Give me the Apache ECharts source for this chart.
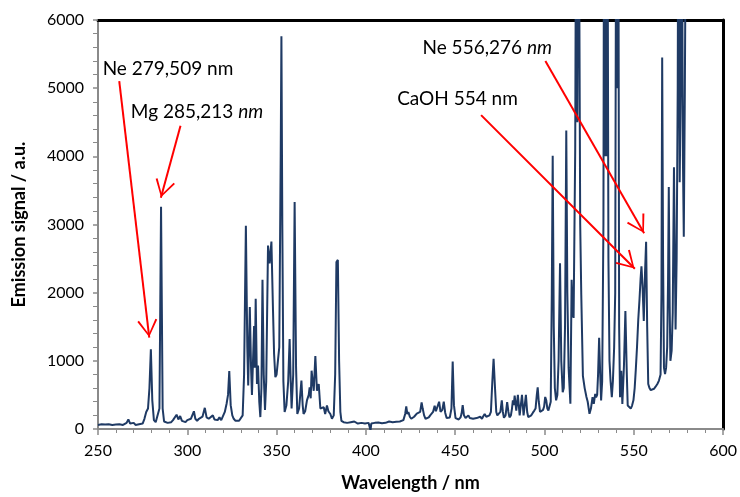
<!DOCTYPE html>
<html>
<head>
<meta charset="utf-8">
<script src="https://cdn.jsdelivr.net/npm/echarts@6/dist/echarts.min.js"></script>
<style>html,body{margin:0;padding:0;background:#fff}#c{width:740px;height:497px}</style>
</head>
<body>
<div id="c"></div>
<script>
// Wavelength (nm) and emission signal (a.u.)
const wavelength = [
250,251,252,253,254,255,256,257,258,259,260,261,262,263,264,265,266,267,268,269,270,271,272,273,274,275,
276,277,278,278.8,279.6,280.4,281.3,282.3,283.3,284.4,285.3,286.2,287,288,289,290,291,292,293,294,295,296,297,298,299,
300,301,302,303,303.7,304.5,305.5,306.5,307.5,308.5,309.8,310.8,312,313,314.3,315.2,316,317,318,319,320,321,322,322.8,323.5,324.3,325.2,326,327,328,329,330,
331,331.8,332.8,333.6,334.1,335,335.7,336.2,337.4,337.8,338.3,339,339.6,340.3,340.9,341.5,342.1,342.8,343.5,344.2,345.2,346.1,347.1,348,348.6,349.3,350,350.8,351.5,352.3,352.7,353.2,353.8,354.5,355.5,356.5,357.3,357.9,358.4,359.3,360.1,360.9,361.6,362.6,363.9,364.6,365.1,366,367,368,368.5,369.1,369.6,370.2,370.8,371.7,372.6,373.6,374.5,375.4,376.4,377.2,378.2,379,380.1,381,382,382.8,383.5,384.3,385,385.7,386.3,
387.5,388.5,389.5,390.5,391.5,392.5,393.5,394.5,395.5,396.5,397.5,398.5,399.5,400.5,401.5,402.2,402.6,403,404,405,406,407,408,409,410,411,412,413,414,415,416,417,418,419,420,
421,422,422.6,423.2,423.8,424.6,425.4,426.3,427,427.8,428.5,429.5,430.4,431.2,431.8,432.6,433.4,434.3,435.2,436,436.8,437.6,438.5,439.2,440.1,441,441.8,442.8,443.6,444.4,445.2,446,447,447.9,448.6,449.3,450.2,
451,452,453,453.6,454.2,454.9,455.8,456.6,457.4,458.2,459,460,461,462,463,464,465,465.8,466.5,467.4,468.3,469.2,470,470.8,471.5,472.3,473,473.6,474.5,475.3,476.1,476.7,477.3,478.2,479.1,479.8,480.4,481.2,481.8,482.3,482.8,483.3,484.2,485.1,486.1,487.4,488.3,489.6,490.3,490.9,491.8,492.6,493.5,494.3,495,495.7,496.2,496.8,497.5,498.4,499.2,499.8,500.4,501,501.6,502.2,502.8,503.5,
504.1,504.6,505.2,505.8,506.5,507.2,507.9,508.7,509.4,510.2,510.8,511.5,512.2,512.8,513.5,514.5,515.2,515.8,516.3,517.2,517.8,518.4,519.1,520,520.6,521.5,522.5,523.5,524.2,525.2,526,526.9,527.6,528.4,528.9,529.5,530,530.6,531.2,531.7,532.3,533,533.4,533.9,534.3,534.8,535.2,535.8,536.4,537,537.7,538.3,539,539.6,540.2,540.7,541.3,541.8,542.3,543,543.6,544.5,545.3,546.1,546.6,547.5,548.3,549,549.8,550.5,551.1,551.8,552.5,553.2,553.8,554.3,554.9,555.6,556.3,556.9,557.5,558.1,558.8,559.5,560.4,561.3,562.2,563.2,564.1,565,565.5,565.9,566.4,566.9,567.5,568.1,568.7,569.2,569.6,570.1,570.5,571.2,571.8,572.5,573,573.4,574,574.6,575,575.7,576.3,576.8,577.5,578,578.6,579.4,580.4
];
const signal = [
60,40,70,50,65,45,70,55,60,40,65,50,70,55,60,75,90,140,80,70,90,60,80,70,90,80,
150,250,300,600,1170,420,130,100,110,300,3260,300,110,100,90,110,100,130,120,210,140,190,120,110,100,
130,110,150,170,260,150,120,150,130,180,310,170,150,140,200,140,120,130,170,130,140,250,370,500,850,350,200,150,120,140,120,130,
200,800,2980,1200,640,1790,900,500,1510,900,1910,660,930,400,175,600,2190,800,280,700,2690,2430,2750,1730,1100,760,800,780,1200,4000,5760,3000,700,250,350,700,1320,700,300,800,3330,900,220,300,710,350,220,260,420,500,610,450,855,700,560,1070,560,660,300,280,320,220,345,260,220,150,200,800,2450,2480,1000,250,120,
100,110,90,110,100,90,110,100,80,100,90,100,80,95,90,70,-20,80,100,90,110,95,100,85,110,90,100,110,90,100,85,105,95,110,100,
130,220,330,220,250,180,150,160,180,200,225,200,250,390,300,200,150,160,170,200,220,250,340,260,280,400,250,280,400,240,160,150,170,300,990,350,160,
150,140,170,230,350,200,160,150,200,160,140,150,130,160,140,180,150,190,220,180,170,200,250,700,1030,600,250,200,190,250,420,250,165,200,395,250,170,200,300,420,350,490,270,500,200,500,200,500,250,175,190,200,240,270,300,500,610,400,250,230,280,330,470,420,300,270,280,400,
2000,4010,1500,600,420,500,1000,2430,1000,540,600,1500,4380,2000,900,370,2190,1700,1630,4090,9000,4500,9000,3000,1970,780,600,470,400,223,300,466,370,514,466,500,800,1340,800,418,700,3000,9000,4000,9000,4000,9000,2500,1000,700,466,700,1195,2000,9000,5000,9000,1500,466,855,369,928,1730,800,345,320,300,340,420,600,860,1200,1600,1900,2200,2385,2100,1584,2300,2745,1500,660,600,570,564,590,620,660,710,800,2000,5450,2500,900,805,900,1200,2200,3550,1800,1000,1150,1700,3840,2500,1460,2500,5000,9000,3620,5000,9000,4000,2820,5000,9000
];
const xTicks = {min: 250, max: 600, interval: 50};
const yTicks = {min: 0, max: 6000, interval: 1000};

// Annotations (data coordinates); second part of each label is the unit
const annotationTexts = ['Ne 279,509 ', 'Mg 285,213 ', 'CaOH 554 ', 'Ne 556,276 '];
const annotationUnitItalic = [false, true, false, true];
const annotationAnchors = [[252.6, 5276], [268.4, 4649], [417.5, 4839], [431.7, 5596]];
const arrowStarts = [[261.9, 5105], [296.2, 4450], [464.5, 4605], [500.5, 5397]];
const arrowTips = [[278.7, 1341], [285.2, 3391], [550.6, 2351], [555.8, 2871]];

const seriesData = wavelength.map((w, i) => [w, signal[i]]);

const chart = echarts.init(document.getElementById('c'), null, {renderer: 'canvas'});
const FONT = 'Lato';
const arrowHead = 'path://M10,18 L20,34 L18.3,35 L10,21 L1.7,35 L0,34 Z M10,0 L10.02,0 L10,0.02 Z';

chart.setOption({
  animation: false,
  backgroundColor: '#fff',
  grid: {left: 98, right: 16, top: 20, bottom: 65, containLabel: false},
  xAxis: [{
    type: 'value', min: xTicks.min, max: xTicks.max, interval: xTicks.interval,
    name: 'Wavelength / nm', nameLocation: 'middle', nameGap: 45,
    nameTextStyle: {fontFamily: FONT, fontWeight: 'bold', fontSize: 18, color: '#000'},
    axisLine: {show: true, onZero: false, lineStyle: {color: '#8a8a8a', width: 2}},
    axisTick: {show: true, length: 6, lineStyle: {color: '#8a8a8a', width: 1.5}},
    minorTick: {show: true, splitNumber: 5, length: 4, lineStyle: {color: '#8a8a8a', width: 1}},
    axisLabel: {fontFamily: FONT, fontSize: 16, color: '#000', margin: 14, formatter: v => String(v)},
    splitLine: {show: false}
  }, {
    type: 'value', position: 'top', min: xTicks.min, max: xTicks.max,
    axisLine: {show: true, onZero: false, lineStyle: {color: '#000', width: 3}},
    axisTick: {show: false}, axisLabel: {show: false}, splitLine: {show: false}
  }],
  yAxis: [{
    type: 'value', min: yTicks.min, max: yTicks.max, interval: yTicks.interval,
    name: 'Emission signal / a.u.', nameLocation: 'middle', nameGap: 70,
    nameTextStyle: {fontFamily: FONT, fontWeight: 'bold', fontSize: 18, color: '#000'},
    axisLine: {show: true, onZero: false, lineStyle: {color: '#8a8a8a', width: 2}},
    axisTick: {show: true, length: 5, lineStyle: {color: '#8a8a8a', width: 1.5}},
    minorTick: {show: true, splitNumber: 5, length: 5, lineStyle: {color: '#8a8a8a', width: 1}},
    axisLabel: {fontFamily: FONT, fontSize: 16, color: '#000', margin: 14, formatter: v => String(v)},
    splitLine: {show: false}
  }, {
    type: 'value', position: 'right', min: yTicks.min, max: yTicks.max,
    axisLine: {show: true, onZero: false, lineStyle: {color: '#000', width: 3}},
    axisTick: {show: false}, axisLabel: {show: false}, splitLine: {show: false}
  }],
  series: [{
    type: 'line',
    data: seriesData,
    showSymbol: false,
    clip: true,
    lineStyle: {color: '#1f3a64', width: 2},
    itemStyle: {color: '#1f3a64'},
    markLine: {
      silent: true,
      symbol: ['none', arrowHead],
      symbolSize: [20, 36],
      lineStyle: {color: '#ff0000', width: 2, type: 'solid'},
      label: {show: false},
      emphasis: {disabled: true},
      data: arrowStarts.map((s, i) => [{coord: s}, {coord: arrowTips[i]}])
    },
    markPoint: {
      silent: true,
      symbol: 'circle',
      symbolSize: 0,
      label: {
        show: true, position: 'right', distance: 0,
        fontFamily: FONT, fontSize: 19, color: '#000',
        formatter: p => '{n|' + p.name + '}' + (annotationUnitItalic[p.dataIndex] ? '{i|nm}' : '{n|nm}'),
        rich: {
          n: {fontFamily: FONT, fontSize: 19, color: '#000'},
          i: {fontFamily: FONT, fontSize: 19, color: '#000', fontStyle: 'italic'}
        }
      },
      data: annotationTexts.map((t, i) => ({name: t, coord: annotationAnchors[i]}))
    }
  }]
});
</script>
</body>
</html>
